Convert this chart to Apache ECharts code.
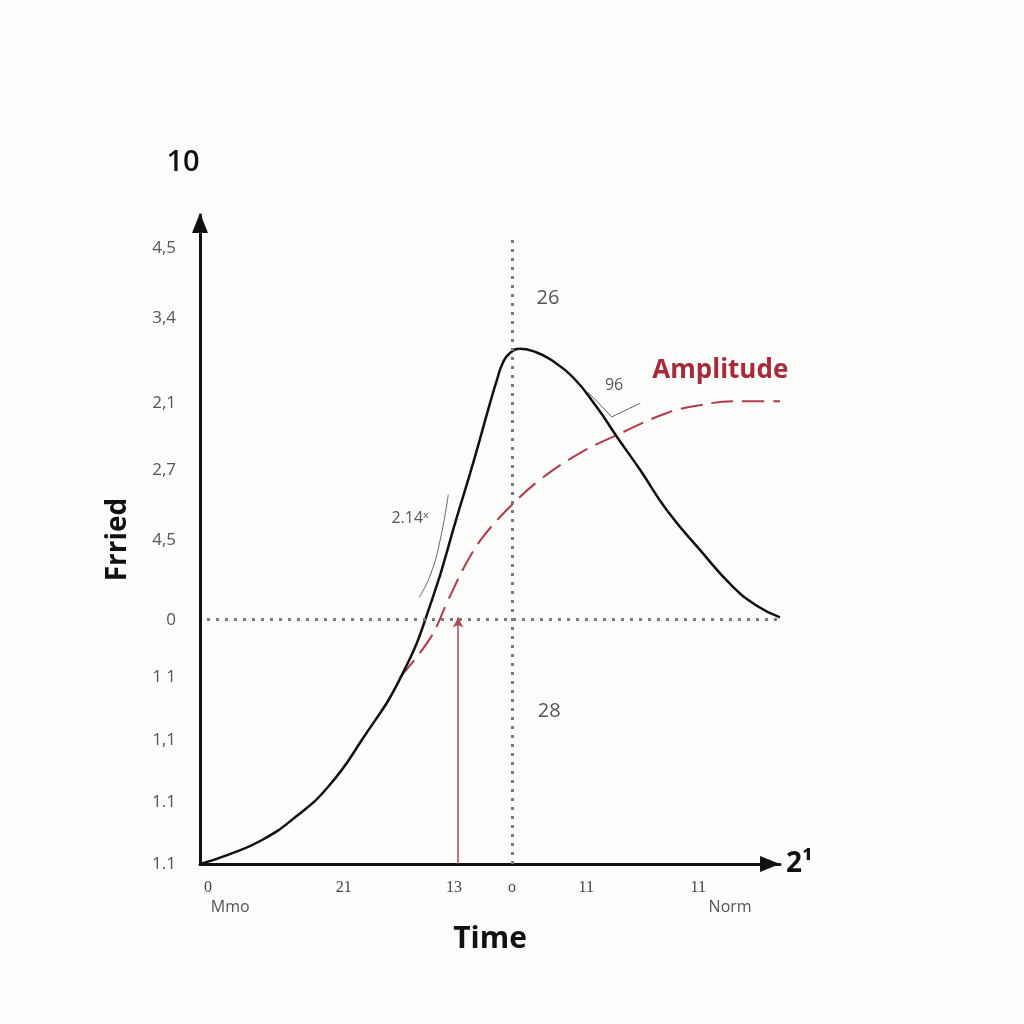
<!DOCTYPE html>
<html>
<head>
<meta charset="utf-8">
<script src="https://cdn.jsdelivr.net/npm/echarts@6/dist/echarts.min.js"></script>
<style>
html,body{margin:0;padding:0;background:#fdfdfc;}
#chart{width:1024px;height:1024px;}
</style>
</head>
<body>
<div id="chart"></div>
<script>
// ---- data ----
const yTickValues = [9.49, 8.41, 7.10, 6.07, 4.99, 3.76, 2.88, 1.91, 0.96, 0.0];
const yTickLabels = ['4,5', '3,4', '2,1', '2,7', '4,5', '0', '1 1', '1,1', '1.1', '1.1'];
const xTickValues = [0.14, 2.48, 4.38, 5.38, 6.66, 8.59];
const xTickLabels = ['0', '21', '13', 'o', '11', '11'];
const xSubValues = [0.52, 9.14];
const xSubLabels = ['Mmo', 'Norm'];

const responseCurve = [
  [0, 0], [0.48, 0.14], [1.07, 0.37], [1.64, 0.72], [2.21, 1.19], [2.79, 1.91],
  [3.48, 2.91], [4.0, 4.07], [4.43, 5.35], [4.71, 6.18], [5.0, 7.10], [5.12, 7.46],
  [5.22, 7.72], [5.34, 7.87], [5.52, 7.94], [5.78, 7.89], [6.03, 7.78], [6.43, 7.50],
  [6.84, 7.04], [7.19, 6.58], [7.59, 6.07], [8.05, 5.45], [8.62, 4.84], [9.19, 4.27],
  [9.6, 3.98], [10.0, 3.80]
];
const amplitudeCurve = [
  [3.45, 2.88], [3.97, 3.48], [4.28, 4.07], [4.60, 4.65], [4.88, 5.04], [5.34, 5.50],
  [5.86, 5.92], [6.55, 6.33], [7.19, 6.61], [8.05, 6.95], [8.62, 7.07], [9.19, 7.13], [10.0, 7.13]
];
const guideArc = [[4.28, 5.69], [4.14, 4.99], [3.97, 4.45], [3.78, 4.11]];
const bracket96 = [[6.69, 7.27], [7.10, 6.89], [7.59, 7.10]];
const zeroLevel = 3.77;
const peakTime = 5.38;
const markerTime = 4.45;

const annotations = [
  { x: 6.0, y: 8.72, text: '26', kind: 'num' },
  { x: 6.02, y: 2.36, text: '28', kind: 'num' },
  { x: 3.62, y: 5.33, text: '2.14ˣ', kind: 'small' },
  { x: 7.14, y: 7.37, text: '96', kind: 'small' },
  { x: 8.97, y: 7.61, text: 'Amplitude', kind: 'title' }
];

const FONT = '"Open Sans", "Noto Sans", sans-serif';
const annStyles = {
  num: { fontSize: 20, color: '#555', fontFamily: FONT },
  small: { fontSize: 16, color: '#555', fontFamily: FONT },
  title: { fontSize: 26, color: '#a62a3a', fontWeight: 'bold', fontFamily: FONT }
};
const dotted = { type: [3, 6], width: 3, color: '#7a7a7a' };

const chart = echarts.init(document.getElementById('chart'));
chart.setOption({
  animation: false,
  backgroundColor: '#fdfdfc',
  grid: { left: 200, top: 215, right: 244, bottom: 160 },
  xAxis: [
    {
      type: 'value', min: 0, max: 10, position: 'bottom',
      splitLine: { show: false },
      axisLine: { show: true, lineStyle: { color: '#111', width: 3 }, symbol: ['none', 'triangle'],
        symbolSize: [16, 20], symbolOffset: [0, -10] },
      axisTick: { show: false },
      axisLabel: {
        customValues: xTickValues,
        formatter: v => xTickLabels[xTickValues.indexOf(v)],
        fontFamily: '"Liberation Serif", "DejaVu Serif", serif', fontSize: 16, color: '#444', margin: 16
      },
      name: '2¹', nameLocation: 'end', nameGap: 6,
      nameTextStyle: { fontSize: 28, fontWeight: 'bold', color: '#111', fontFamily: FONT }
    },
    {
      type: 'value', min: 0, max: 10, position: 'bottom',
      splitLine: { show: false },
      axisLine: { show: false },
      axisTick: { show: false },
      axisLabel: {
        customValues: xSubValues,
        formatter: v => xSubLabels[xSubValues.indexOf(v)],
        fontFamily: FONT, fontSize: 16, color: '#555', margin: 35
      },
      name: 'Time', nameLocation: 'middle', nameGap: 60,
      nameTextStyle: { fontSize: 30, fontWeight: 'bold', color: '#111', fontFamily: FONT }
    }
  ],
  yAxis: [
    {
      type: 'value', min: 0, max: 10,
      splitLine: { show: false },
      axisLine: { show: true, lineStyle: { color: '#111', width: 3 }, symbol: ['none', 'triangle'],
        symbolSize: [16, 20], symbolOffset: [0, -8] },
      axisTick: { show: false },
      axisLabel: {
        customValues: yTickValues,
        formatter: v => yTickLabels[yTickValues.indexOf(v)],
        fontFamily: FONT, fontSize: 17, color: '#555', margin: 24
      },
      name: '10', nameLocation: 'end', nameGap: 38,
      nameTextStyle: { fontSize: 29, fontWeight: 600, color: '#111', fontFamily: FONT, padding: [0, 34, 0, 0] }
    },
    {
      type: 'value', min: 0, max: 10, position: 'left',
      splitLine: { show: false },
      axisLine: { show: false }, axisTick: { show: false }, axisLabel: { show: false },
      name: 'Frried', nameLocation: 'middle', nameGap: 68, nameRotate: 90,
      nameTextStyle: { fontSize: 28, fontWeight: 'bold', color: '#111', fontFamily: FONT }
    }
  ],
  series: [
    {
      type: 'line', data: [], silent: true,
      markLine: {
        silent: true, animation: false, label: { show: false }, symbol: 'none',
        data: [
          [{ coord: [0.12, zeroLevel], lineStyle: dotted }, { coord: [10, zeroLevel] }],
          [{ coord: [peakTime, 0], lineStyle: dotted }, { coord: [peakTime, 9.69] }],
          [{ coord: [markerTime, 0], symbol: 'none', lineStyle: { type: 'solid', width: 1.5, color: '#b04a55' } },
           { coord: [markerTime, 3.80], symbol: 'arrow', symbolSize: [8, 10], itemStyle: { color: '#b04a55' } }]
        ]
      }
    },
    {
      type: 'line', data: amplitudeCurve, smooth: 0.4, showSymbol: false, silent: true,
      lineStyle: { color: '#b03a4a', width: 2, type: [22, 9] }
    },
    {
      type: 'line', data: responseCurve, smooth: 0.5, showSymbol: false, silent: true,
      lineStyle: { color: '#111', width: 2.5 }
    },
    {
      type: 'line', data: guideArc, smooth: true, showSymbol: false, silent: true,
      lineStyle: { color: '#666', width: 1 }
    },
    {
      type: 'line', data: bracket96, smooth: false, showSymbol: false, silent: true,
      lineStyle: { color: '#666', width: 1 }
    },
    {
      type: 'scatter', symbolSize: 0, silent: true, clip: false,
      itemStyle: { opacity: 1 },
      data: annotations.map(a => ({
        value: [a.x, a.y],
        label: Object.assign({ show: true, position: 'inside', formatter: a.text,
          textBorderWidth: 0, textShadowBlur: 0, opacity: 1 }, annStyles[a.kind])
      }))
    }
  ]
});
</script>
</body>
</html>
